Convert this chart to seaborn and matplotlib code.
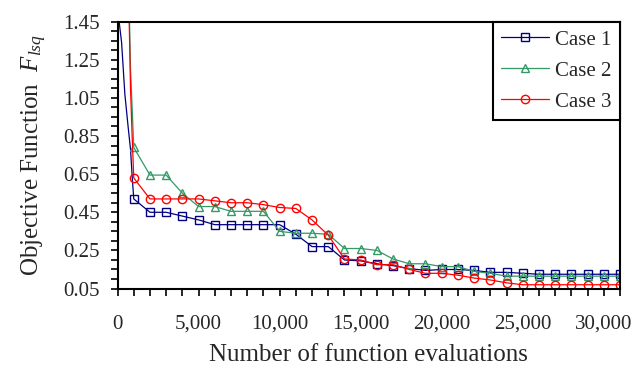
import matplotlib
matplotlib.use("Agg")
import matplotlib.pyplot as plt
import matplotlib.ticker as mticker
from matplotlib.lines import Line2D
import seaborn as sns
import numpy as np

# x positions: a few early points, then one every 1000 evaluations (marked)
early_evals = [0, 250, 450, 650, 800, 900]
marked_evals = list(range(1000, 32000, 1000))

case1_early = [1.52, 1.34, 1.07, 0.90, 0.78, 0.64]
case1 = [0.52, 0.45, 0.45, 0.43, 0.41, 0.385, 0.385, 0.385, 0.385, 0.385,
         0.335, 0.27, 0.27, 0.20, 0.195, 0.18, 0.17, 0.155, 0.145, 0.15,
         0.15, 0.145, 0.135, 0.135, 0.13, 0.125, 0.125, 0.125, 0.125, 0.125, 0.125]

case2_early = [4.0, 3.2, 2.5, 1.80, 1.20, 1.00]
case2 = [0.79, 0.645, 0.645, 0.55, 0.48, 0.48, 0.455, 0.455, 0.455, 0.35,
         0.34, 0.34, 0.335, 0.26, 0.26, 0.25, 0.205, 0.18, 0.18, 0.165,
         0.165, 0.14, 0.13, 0.115, 0.115, 0.115, 0.115, 0.115, 0.115, 0.115, 0.115]

case3_early = [4.0, 3.2, 2.5, 1.75, 1.10, 0.85]
case3 = [0.63, 0.52, 0.52, 0.52, 0.52, 0.51, 0.50, 0.50, 0.49, 0.475,
         0.47, 0.41, 0.33, 0.205, 0.20, 0.175, 0.175, 0.15, 0.13, 0.13,
         0.12, 0.105, 0.095, 0.08, 0.07, 0.07, 0.07, 0.07, 0.07, 0.07, 0.07]

labels = ["Case 1", "Case 2", "Case 3"]
colors = ["#000080", "#339966", "#FF0000"]
markers = ["s", "^", "o"]

sns.set_style("ticks")
plt.rcParams["font.family"] = ["Liberation Serif", "DejaVu Serif"]
plt.rcParams["mathtext.fontset"] = "custom"
plt.rcParams["mathtext.rm"] = "Liberation Serif"
plt.rcParams["mathtext.it"] = "Liberation Serif:italic"

fig = plt.figure(figsize=(6.32, 3.69), dpi=100)
ax = fig.add_axes([0.186, 0.218, 0.795, 0.7235])

x_all = early_evals + marked_evals
mark_idx = list(range(len(early_evals), len(x_all)))
handles = []
for early, vals, lab, col, mk in zip([case1_early, case2_early, case3_early],
                                     [case1, case2, case3], labels, colors, markers):
    sns.lineplot(x=x_all, y=early + vals, ax=ax, color=col, lw=0.9,
                 marker=mk, markevery=mark_idx, markersize=6,
                 markerfacecolor="none", markeredgecolor=col, markeredgewidth=1.0)
    handles.append(Line2D([], [], color=col, lw=0.9, marker=mk, markersize=6,
                          markerfacecolor="none", markeredgecolor=col,
                          markeredgewidth=1.0, label=lab))

ax.set_xlim(0, 31000)
ax.set_ylim(0.05, 1.45)
ax.xaxis.set_major_locator(mticker.MultipleLocator(5000))
ax.xaxis.set_minor_locator(mticker.MultipleLocator(1000))
ax.xaxis.set_major_formatter(mticker.FuncFormatter(lambda v, _: f"{int(v):,}"))
ax.set_yticks(np.arange(0.05, 1.46, 0.2))
ax.yaxis.set_minor_locator(mticker.FixedLocator(np.arange(0.05, 1.46, 0.05)))
ax.yaxis.set_major_formatter(mticker.FormatStrFormatter("%.2f"))

ax.tick_params(which="both", direction="out", length=5, width=1.2, color="black",
               labelsize=15)
ax.tick_params(axis="x", pad=14)
ax.tick_params(axis="y", pad=8)
for sp in ax.spines.values():
    sp.set_visible(True)
    sp.set_color("black")
    sp.set_linewidth(1.5)

ax.set_xlabel("Number of function evaluations", fontsize=18, labelpad=7)
ax.set_ylabel(r"Objective Function  $F_{lsq}$", fontsize=18, labelpad=10)

leg = ax.legend(handles=handles, loc="upper right", bbox_to_anchor=(1.0, 1.0),
                borderaxespad=0, fontsize=15, frameon=True, fancybox=False,
                framealpha=1, edgecolor="black", handlelength=2.3,
                labelspacing=0.55, borderpad=0.4, handletextpad=0.3)
leg.get_frame().set_linewidth(1.5)

fig.savefig("out.png", dpi=100)
